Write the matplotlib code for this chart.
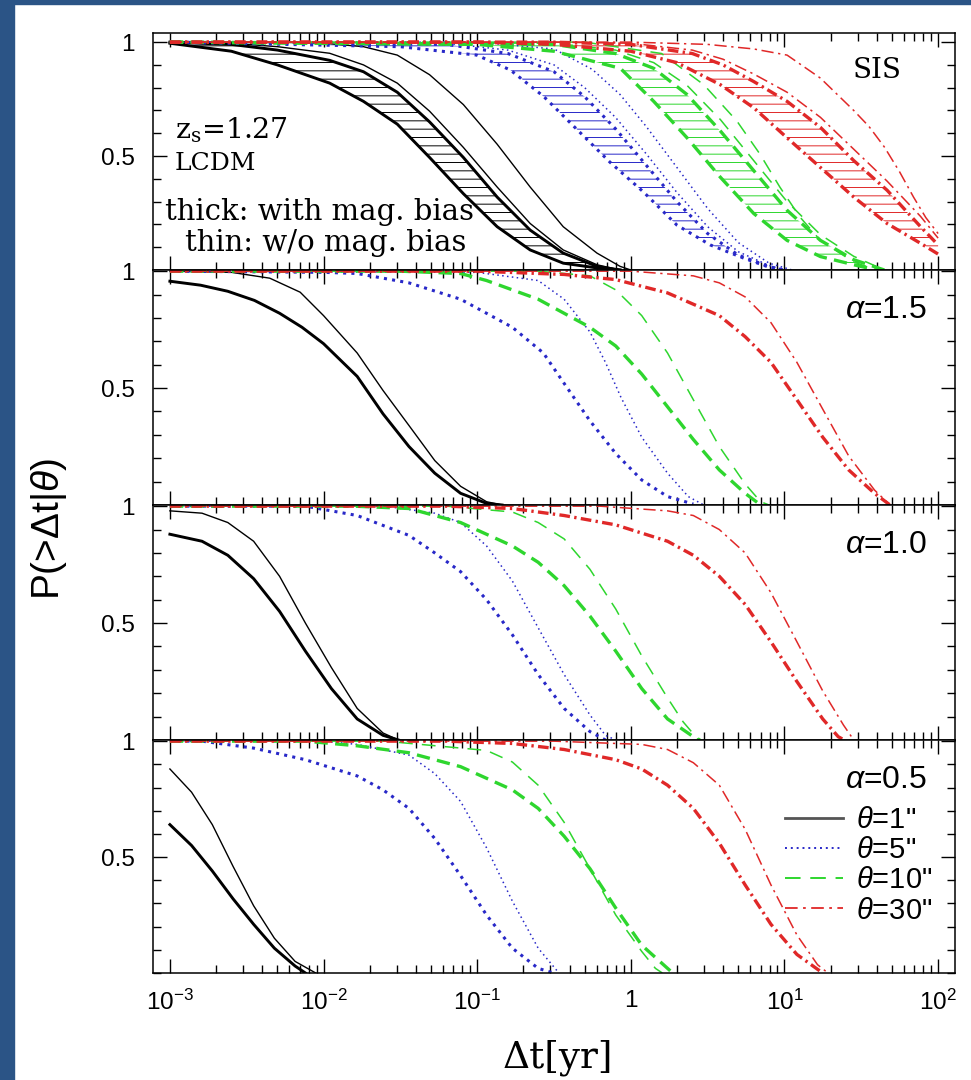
import numpy as np
import matplotlib
matplotlib.use("Agg")
import matplotlib.pyplot as plt
from matplotlib.patches import Rectangle
from matplotlib.lines import Line2D
from matplotlib.ticker import FixedLocator, NullFormatter, MultipleLocator

# ---- data: log10(dt/yr) and P(>dt|theta) ----
# SIS panel: A, B = thick (hatched band between them), C, D = thin
sis_k_A_logt = [-3.0, -2.6, -2.3, -1.96, -1.74, -1.52, -1.31, -1.09, -0.87, -0.655, -0.44, -0.22, -0.07]
sis_k_A_p = [0.995, 0.96, 0.90, 0.82, 0.74, 0.64, 0.494, 0.335, 0.19, 0.088, 0.03, 0.009, 0.0]
sis_k_B_logt = sis_k_A_logt
sis_k_B_p = [1.0, 0.99, 0.965, 0.92, 0.87, 0.78, 0.65, 0.494, 0.32, 0.175, 0.074, 0.016, 0.0]
sis_k_C_logt = sis_k_A_logt
sis_k_C_p = [1.0, 0.995, 0.98, 0.951, 0.90, 0.82, 0.697, 0.538, 0.364, 0.204, 0.088, 0.023, 0.0]
sis_k_D_logt = [-3.0, -2.3, -2.0, -1.74, -1.52, -1.31, -1.09, -0.87, -0.655, -0.44, -0.22, -0.07, 0.0]
sis_k_D_p = [1.0, 1.0, 0.995, 0.98, 0.943, 0.857, 0.726, 0.552, 0.364, 0.19, 0.074, 0.016, 0.0]

sis_b_A_logt = [-3.0, -1.5, -1.003, -0.785, -0.568, -0.351, -0.134, 0.083, 0.300, 0.517, 0.735, 0.95]
sis_b_A_p = [1.0, 0.98, 0.943, 0.878, 0.762, 0.617, 0.472, 0.342, 0.197, 0.110, 0.052, 0.0]
sis_b_B_logt = [-3.0, -1.2, -0.8, -0.5, -0.3, -0.1, 0.1, 0.3, 0.5, 0.7, 0.9, 1.0]
sis_b_B_p = [1.0, 0.99, 0.95, 0.87, 0.76, 0.62, 0.46, 0.30, 0.16, 0.065, 0.015, 0.0]
sis_b_C_logt = sis_b_B_logt
sis_b_C_p = [1.0, 0.995, 0.965, 0.90, 0.80, 0.67, 0.51, 0.34, 0.19, 0.08, 0.02, 0.0]
sis_b_D_logt = [-3.0, -1.0, -0.5, -0.25, -0.07, 0.1, 0.3, 0.5, 0.7, 0.9, 1.05]
sis_b_D_p = [1.0, 1.0, 0.97, 0.88, 0.77, 0.63, 0.45, 0.27, 0.12, 0.03, 0.0]

sis_g_A_logt = [-3.0, -1.0, -0.5, -0.068, 0.149, 0.366, 0.583, 0.80, 1.017, 1.234, 1.451, 1.6]
sis_g_A_p = [1.0, 0.99, 0.96, 0.885, 0.74, 0.58, 0.407, 0.248, 0.13, 0.059, 0.023, 0.0]
sis_g_B_logt = [-3.0, -0.5, -0.1, 0.149, 0.366, 0.583, 0.80, 1.017, 1.234, 1.451, 1.65]
sis_g_B_p = [1.0, 0.99, 0.95, 0.885, 0.77, 0.61, 0.436, 0.262, 0.13, 0.045, 0.0]
sis_g_C_logt = sis_g_B_logt
sis_g_C_p = [1.0, 0.995, 0.965, 0.91, 0.81, 0.66, 0.48, 0.30, 0.155, 0.06, 0.0]
sis_g_D_logt = [-3.0, -0.3, 0.2, 0.475, 0.69, 0.84, 0.97, 1.10, 1.234, 1.45, 1.6]
sis_g_D_p = [1.0, 1.0, 0.95, 0.813, 0.654, 0.509, 0.364, 0.233, 0.13, 0.035, 0.0]

sis_r_A_logt = [-3.0, -1.0, -0.5, 0.0, 0.3, 0.583, 0.80, 1.017, 1.234, 1.451, 1.668, 1.886, 2.0]
sis_r_A_p = [1.0, 1.0, 0.99, 0.96, 0.91, 0.813, 0.712, 0.58, 0.45, 0.32, 0.204, 0.117, 0.07]
sis_r_B_logt = [-3.0, -0.5, 0.0, 0.4, 0.6, 0.80, 1.017, 1.234, 1.451, 1.668, 1.886, 2.0]
sis_r_B_p = [1.0, 1.0, 0.99, 0.95, 0.90, 0.827, 0.74, 0.626, 0.48, 0.35, 0.19, 0.11]
sis_r_C_logt = sis_r_B_logt
sis_r_C_p = [1.0, 1.0, 0.995, 0.965, 0.925, 0.86, 0.78, 0.67, 0.53, 0.39, 0.235, 0.14]
sis_r_D_logt = [-3.0, 0.0, 0.5, 0.8, 1.017, 1.234, 1.451, 1.55, 1.65, 1.75, 1.84, 1.92, 2.0]
sis_r_D_p = [1.0, 1.0, 0.99, 0.97, 0.943, 0.842, 0.70, 0.63, 0.54, 0.43, 0.32, 0.23, 0.16]

# alpha = 1.5
a15_k_thick_logt = [-3.0, -2.8, -2.623, -2.45, -2.286, -2.14, -2.0, -1.781, -1.613, -1.444, -1.276, -1.108, -0.939, -0.838]
a15_k_thick_p = [0.957, 0.94, 0.914, 0.875, 0.82, 0.76, 0.69, 0.55, 0.39, 0.25, 0.136, 0.05, 0.007, 0.0]
a15_k_thin_logt = [-3.0, -2.6, -2.35, -2.152, -2.0, -1.781, -1.613, -1.444, -1.276, -1.108, -0.939, -0.838]
a15_k_thin_p = [1.0, 0.995, 0.97, 0.91, 0.81, 0.65, 0.49, 0.34, 0.19, 0.08, 0.014, 0.0]
a15_b_thick_logt = [-3.0, -2.0, -1.781, -1.444, -1.108, -0.771, -0.569, -0.434, -0.266, -0.098, 0.071, 0.239, 0.407]
a15_b_thick_p = [1.0, 0.995, 0.99, 0.95, 0.88, 0.76, 0.65, 0.52, 0.36, 0.22, 0.107, 0.036, 0.004]
a15_b_thin_logt = [-3.0, -1.0, -0.603, -0.434, -0.266, -0.165, -0.064, 0.071, 0.239, 0.374, 0.475]
a15_b_thin_p = [1.0, 0.995, 0.96, 0.88, 0.74, 0.61, 0.46, 0.29, 0.136, 0.036, 0.0]
a15_g_thick_logt = [-3.0, -1.5, -1.108, -0.939, -0.603, -0.266, -0.098, 0.071, 0.239, 0.407, 0.576, 0.744, 0.845]
a15_g_thick_p = [1.0, 1.0, 0.99, 0.96, 0.88, 0.76, 0.68, 0.56, 0.42, 0.28, 0.15, 0.05, 0.0]
a15_g_thin_logt = [-3.0, -0.6, -0.266, -0.098, 0.071, 0.239, 0.407, 0.576, 0.744, 0.845, 0.9]
a15_g_thin_p = [1.0, 1.0, 0.98, 0.92, 0.81, 0.65, 0.45, 0.25, 0.09, 0.014, 0.0]
a15_r_thick_logt = [-3.0, -1.0, -0.434, -0.098, 0.239, 0.576, 0.744, 0.912, 1.081, 1.249, 1.418, 1.586, 1.687]
a15_r_thick_p = [1.0, 1.0, 0.986, 0.964, 0.907, 0.81, 0.72, 0.61, 0.45, 0.29, 0.15, 0.05, 0.0]
a15_r_thin_logt = [-3.0, 0.0, 0.407, 0.576, 0.744, 0.912, 1.081, 1.249, 1.418, 1.586, 1.687]
a15_r_thin_p = [1.0, 1.0, 0.98, 0.95, 0.89, 0.78, 0.61, 0.41, 0.21, 0.064, 0.0]

# alpha = 1.0
a10_k_thick_logt = [-3.0, -2.791, -2.623, -2.455, -2.286, -2.118, -1.949, -1.781, -1.613, -1.512]
a10_k_thick_p = [0.88, 0.85, 0.79, 0.69, 0.55, 0.38, 0.22, 0.09, 0.02, 0.0]
a10_k_thin_logt = [-3.0, -2.791, -2.623, -2.455, -2.286, -2.118, -1.949, -1.781, -1.613, -1.512]
a10_k_thin_p = [0.98, 0.97, 0.93, 0.85, 0.70, 0.50, 0.31, 0.135, 0.03, 0.0]
a10_b_thick_logt = [-3.0, -2.118, -1.781, -1.444, -1.276, -1.108, -0.939, -0.771, -0.603, -0.434, -0.266, -0.165]
a10_b_thick_p = [1.0, 1.0, 0.96, 0.875, 0.80, 0.72, 0.60, 0.45, 0.28, 0.135, 0.036, 0.0]
a10_b_thin_logt = [-3.0, -1.6, -1.276, -1.108, -0.939, -0.771, -0.603, -0.434, -0.266, -0.165, -0.098]
a10_b_thin_p = [1.0, 1.0, 0.97, 0.93, 0.83, 0.68, 0.48, 0.28, 0.107, 0.02, 0.0]
a10_g_thick_logt = [-3.0, -1.8, -1.444, -1.108, -0.771, -0.603, -0.434, -0.266, -0.098, 0.071, 0.239, 0.407, 0.45]
a10_g_thick_p = [1.0, 1.0, 0.99, 0.93, 0.83, 0.76, 0.66, 0.53, 0.38, 0.22, 0.09, 0.014, 0.0]
a10_g_thin_logt = [-3.0, -1.2, -0.771, -0.603, -0.434, -0.266, -0.098, 0.071, 0.239, 0.340, 0.441]
a10_g_thin_p = [1.0, 1.0, 0.975, 0.93, 0.86, 0.73, 0.56, 0.36, 0.18, 0.078, 0.0]
a10_r_thick_logt = [-3.0, -1.2, -0.771, -0.434, -0.098, 0.239, 0.407, 0.576, 0.744, 0.912, 1.081, 1.249, 1.350, 1.39]
a10_r_thick_p = [1.0, 1.0, 0.99, 0.96, 0.92, 0.85, 0.79, 0.70, 0.58, 0.42, 0.25, 0.09, 0.014, 0.0]
a10_r_thin_logt = [-3.0, -0.2, 0.239, 0.407, 0.576, 0.744, 0.912, 1.081, 1.249, 1.384, 1.451]
a10_r_thin_p = [1.0, 1.0, 0.98, 0.96, 0.90, 0.80, 0.63, 0.42, 0.21, 0.064, 0.0]

# alpha = 0.5
a05_k_thick_logt = [-3.0, -2.859, -2.724, -2.589, -2.455, -2.320, -2.185, -2.118]
a05_k_thick_p = [0.64, 0.55, 0.44, 0.32, 0.21, 0.107, 0.03, 0.0]
a05_k_thin_logt = [-3.0, -2.859, -2.724, -2.589, -2.455, -2.320, -2.185, -2.051]
a05_k_thin_p = [0.88, 0.78, 0.64, 0.46, 0.29, 0.15, 0.05, 0.0]
a05_b_thick_logt = [-3.0, -2.791, -2.455, -2.118, -1.781, -1.613, -1.444, -1.276, -1.108, -0.939, -0.771, -0.603, -0.502]
a05_b_thick_p = [1.0, 1.0, 0.97, 0.92, 0.85, 0.79, 0.71, 0.58, 0.42, 0.25, 0.107, 0.02, 0.0]
a05_b_thin_logt = [-3.0, -2.0, -1.781, -1.444, -1.276, -1.108, -0.939, -0.771, -0.603, -0.468]
a05_b_thin_p = [1.0, 1.0, 0.986, 0.94, 0.86, 0.74, 0.54, 0.31, 0.107, 0.0]
a05_g_thick_logt = [-3.0, -2.118, -1.781, -1.444, -1.108, -0.771, -0.603, -0.434, -0.266, -0.098, 0.071, 0.239, 0.273]
a05_g_thick_p = [1.0, 1.0, 0.98, 0.95, 0.89, 0.79, 0.71, 0.59, 0.45, 0.28, 0.12, 0.02, 0.0]
a05_g_thin_logt = [-3.0, -1.6, -0.939, -0.771, -0.603, -0.434, -0.266, -0.098, 0.071, 0.16, 0.205]
a05_g_thin_p = [1.0, 1.0, 0.96, 0.91, 0.81, 0.65, 0.45, 0.25, 0.093, 0.02, 0.0]
a05_r_thick_logt = [-3.0, -1.2, -0.771, -0.434, -0.098, 0.071, 0.239, 0.407, 0.576, 0.744, 0.912, 1.081, 1.249]
a05_r_thick_p = [1.0, 1.0, 0.99, 0.964, 0.92, 0.88, 0.81, 0.71, 0.56, 0.38, 0.21, 0.08, 0.0]
a05_r_thin_logt = [-3.0, -0.5, 0.071, 0.239, 0.407, 0.576, 0.744, 0.912, 1.081, 1.215, 1.283]
a05_r_thin_p = [1.0, 1.0, 0.986, 0.964, 0.907, 0.81, 0.62, 0.38, 0.164, 0.036, 0.0]

panel_labels = ["SIS", r"$\alpha$=1.5", r"$\alpha$=1.0", r"$\alpha$=0.5"]
legend_labels = [r'$\theta$=1"', r'$\theta$=5"', r'$\theta$=10"', r'$\theta$=30"']
xtick_vals = [1e-3, 1e-2, 1e-1, 1, 1e1, 1e2]
xtick_labels = [r"$10^{-3}$", r"$10^{-2}$", r"$10^{-1}$", "1", r"$10^{1}$", r"$10^{2}$"]

# ---- styles ----
plt.rcParams["font.family"] = ["Liberation Sans", "DejaVu Sans"]
plt.rcParams["mathtext.fontset"] = "custom"
plt.rcParams["mathtext.rm"] = "Liberation Sans"
plt.rcParams["mathtext.it"] = "Liberation Sans:italic"
plt.rcParams["hatch.linewidth"] = 0.7

cols = {"k": "black", "b": "#2828c8", "g": "#2ed62e", "r": "#e02828"}
thick = {"k": dict(ls="-", lw=2.1),
         "b": dict(ls=(0, (1, 1.7)), lw=2.2),
         "g": dict(ls=(0, (4, 2.2)), lw=2.4),
         "r": dict(ls=(0, (3.2, 1.3, 0.7, 1.3)), lw=2.4)}
thin = {"k": dict(ls="-", lw=1.0),
        "b": dict(ls=(0, (1, 2.2)), lw=1.1),
        "g": dict(ls=(0, (9, 6)), lw=1.1),
        "r": dict(ls=(0, (8, 3, 1.5, 3)), lw=1.1)}


def curve(ax, logt, p, c, style):
    ax.plot(10 ** np.asarray(logt), p, color=cols[c], **style[c])


fig = plt.figure(figsize=(9.71, 10.8), dpi=100)
fig.patches.append(Rectangle((0, 0), 14 / 971, 1, transform=fig.transFigure, color="#2b5486", zorder=-5))
fig.patches.append(Rectangle((0, 1 - 4 / 1080), 1, 4 / 1080, transform=fig.transFigure, color="#2b5486", zorder=-5))

left, right = 153 / 971, 955 / 971
edges = [33, 270, 505, 740, 973]
axes = []
for i in range(4):
    top = 1 - edges[i] / 1080
    bot = 1 - edges[i + 1] / 1080
    ax = fig.add_axes([left, bot, right - left, top - bot])
    axes.append(ax)

# SIS panel with hatched bands
ax = axes[0]
sis = {
    "k": (sis_k_A_logt, sis_k_A_p, sis_k_B_logt, sis_k_B_p, sis_k_C_logt, sis_k_C_p, sis_k_D_logt, sis_k_D_p),
    "b": (sis_b_A_logt, sis_b_A_p, sis_b_B_logt, sis_b_B_p, sis_b_C_logt, sis_b_C_p, sis_b_D_logt, sis_b_D_p),
    "g": (sis_g_A_logt, sis_g_A_p, sis_g_B_logt, sis_g_B_p, sis_g_C_logt, sis_g_C_p, sis_g_D_logt, sis_g_D_p),
    "r": (sis_r_A_logt, sis_r_A_p, sis_r_B_logt, sis_r_B_p, sis_r_C_logt, sis_r_C_p, sis_r_D_logt, sis_r_D_p),
}
for c, (xa, ya, xb, yb, xc, yc, xd, yd) in sis.items():
    px = np.concatenate([10 ** np.asarray(xa), 10 ** np.asarray(xb)[::-1]])
    py = np.concatenate([ya, yb[::-1]])
    ax.fill(px, py, facecolor="none", edgecolor=cols[c], hatch="--", lw=0)
    curve(ax, xa, ya, c, thick)
    curve(ax, xb, yb, c, thick)
    curve(ax, xc, yc, c, thin)
    curve(ax, xd, yd, c, thin)

panels = [
    {"k": (a15_k_thick_logt, a15_k_thick_p, a15_k_thin_logt, a15_k_thin_p),
     "b": (a15_b_thick_logt, a15_b_thick_p, a15_b_thin_logt, a15_b_thin_p),
     "g": (a15_g_thick_logt, a15_g_thick_p, a15_g_thin_logt, a15_g_thin_p),
     "r": (a15_r_thick_logt, a15_r_thick_p, a15_r_thin_logt, a15_r_thin_p)},
    {"k": (a10_k_thick_logt, a10_k_thick_p, a10_k_thin_logt, a10_k_thin_p),
     "b": (a10_b_thick_logt, a10_b_thick_p, a10_b_thin_logt, a10_b_thin_p),
     "g": (a10_g_thick_logt, a10_g_thick_p, a10_g_thin_logt, a10_g_thin_p),
     "r": (a10_r_thick_logt, a10_r_thick_p, a10_r_thin_logt, a10_r_thin_p)},
    {"k": (a05_k_thick_logt, a05_k_thick_p, a05_k_thin_logt, a05_k_thin_p),
     "b": (a05_b_thick_logt, a05_b_thick_p, a05_b_thin_logt, a05_b_thin_p),
     "g": (a05_g_thick_logt, a05_g_thick_p, a05_g_thin_logt, a05_g_thin_p),
     "r": (a05_r_thick_logt, a05_r_thick_p, a05_r_thin_logt, a05_r_thin_p)},
]
for ax, pdata in zip(axes[1:], panels):
    for c, (xt, yt, xn, yn) in pdata.items():
        curve(ax, xt, yt, c, thick)
        curve(ax, xn, yn, c, thin)

for i, ax in enumerate(axes):
    ax.set_xscale("log")
    ax.set_xlim(10 ** -3.11, 10 ** 2.11)
    ax.set_ylim(0, 1.04 if i == 0 else 1.005)
    for s in ax.spines.values():
        s.set_linewidth(1.1)
    ax.xaxis.set_major_locator(FixedLocator(xtick_vals))
    ax.xaxis.set_minor_locator(FixedLocator([m * 10.0 ** e for e in range(-3, 2) for m in range(2, 10)]))
    ax.xaxis.set_minor_formatter(NullFormatter())
    ax.yaxis.set_major_locator(FixedLocator([0.5, 1.0]))
    ax.yaxis.set_minor_locator(MultipleLocator(0.1))
    ax.set_yticklabels(["0.5", "1"])
    ax.tick_params(which="both", direction="in", top=True, right=True, width=1.0, labelsize=17.5)
    ax.tick_params(which="major", length=10)
    ax.tick_params(which="minor", length=5.5)
    ax.tick_params(axis="y", which="major", pad=13)
    ax.tick_params(axis="x", which="major", pad=12)
    if i < 3:
        ax.set_xticklabels([])
    else:
        ax.set_xticklabels(xtick_labels)

# annotations
axes[0].text(0.903, 0.84, "SIS", transform=axes[0].transAxes, ha="center", va="center",
             fontsize=20, family="DejaVu Serif")
axes[0].text(0.027, 0.59, r"z$_\mathrm{s}$=1.27", transform=axes[0].transAxes, ha="left", va="center",
             fontsize=20.5, family="DejaVu Serif", math_fontfamily="dejavuserif")
axes[0].text(0.027, 0.45, "LCDM", transform=axes[0].transAxes, ha="left", va="center",
             fontsize=18, family="DejaVu Serif")
axes[0].text(0.208, 0.245, "thick: with mag. bias", transform=axes[0].transAxes, ha="center", va="center",
             fontsize=21, family="DejaVu Serif")
axes[0].text(0.215, 0.114, "thin: w/o mag. bias", transform=axes[0].transAxes, ha="center", va="center",
             fontsize=21, family="DejaVu Serif")
for ax, lab in zip(axes[1:], panel_labels[1:]):
    ax.text(0.965, 0.83, lab, transform=ax.transAxes, ha="right", va="center", fontsize=23)

handles = [Line2D([], [], color="#555555", ls="-", lw=2.0),
           Line2D([], [], color=cols["b"], ls=(0, (1, 2)), lw=1.4),
           Line2D([], [], color=cols["g"], ls=(0, (8, 5)), lw=1.4),
           Line2D([], [], color=cols["r"], ls=(0, (7, 3, 1.5, 3)), lw=1.3)]
axes[3].legend(handles, legend_labels, loc="upper right", bbox_to_anchor=(0.972, 0.715),
               frameon=False, fontsize=21, handlelength=2.0, handletextpad=0.45,
               labelspacing=0.07, borderpad=0, borderaxespad=0)

fig.text(0.05, 0.51, r"P(>$\Delta$t|$\theta$)", rotation=90, ha="center", va="center", fontsize=28)
fig.text(0.575, 0.021, "Δt[yr]", ha="center", va="center", fontsize=27, family="DejaVu Serif")

fig.savefig("out.png", dpi=100, facecolor="white")
